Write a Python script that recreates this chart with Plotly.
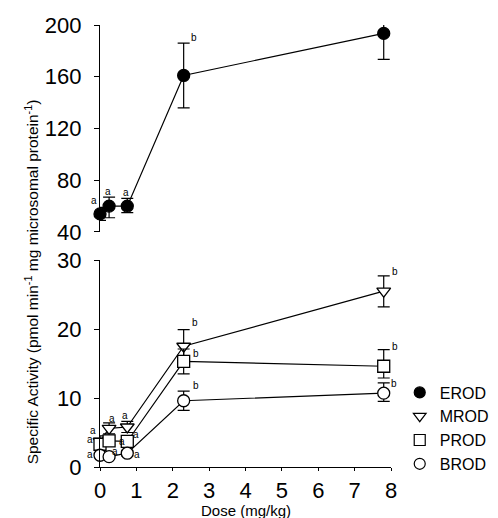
import plotly.graph_objects as go

dose = [0, 0.25, 0.75, 2.3, 7.8]

erod = [54, 60, 60, 161, 193.5]
erod_ep = [5, 7, 6, 25, 7]
erod_em = [5, 9, 5, 25, 20]
erod_lbl = ["a", "a", "a", "b", "b"]

mrod = [3.7, 5.6, 5.8, 17.5, 25.5]
mrod_ep = [0.8, 0.8, 0.8, 2.4, 2.2]
mrod_em = [0.8, 0.8, 0.8, 2.4, 2.3]
prod_ = [3.3, 3.8, 3.7, 15.3, 14.6]
prod_ep = [0.6, 0.5, 0.8, 1.8, 2.4]
prod_em = [0.6, 0.5, 0.8, 1.8, 1.7]
brod = [1.7, 1.5, 2.0, 9.6, 10.7]
brod_ep = [0.4, 0.3, 0.4, 1.4, 1.5]
brod_em = [0.4, 0.3, 0.4, 1.4, 1.2]
bottom_lbl = ["a", "a", "a", "b", "b"]

x_ticks = [0, 1, 2, 3, 4, 5, 6, 7, 8]
y_top_ticks = [40, 80, 120, 160, 200]
y_bot_ticks = [0, 10, 20, 30]

FONT = "Liberation Sans, Arial, Helvetica, sans-serif"
BLACK = "black"

fig = go.Figure()


def add_series(y, ep, em, symbol, fill, xa, ya):
    fig.add_trace(go.Scatter(
        x=dose, y=y, mode="lines+markers", xaxis=xa, yaxis=ya,
        line=dict(color=BLACK, width=1.2),
        marker=dict(symbol=symbol, size=12, color=fill,
                    line=dict(color=BLACK, width=1.3)),
        error_y=dict(type="data", symmetric=False, array=ep, arrayminus=em,
                     color=BLACK, thickness=1.2, width=6),
        showlegend=False, cliponaxis=False))


add_series(erod, erod_ep, erod_em, "circle", BLACK, "x2", "y2")
add_series(mrod, mrod_ep, mrod_em, "triangle-down", "white", "x", "y")
add_series(prod_, prod_ep, prod_em, "square", "white", "x", "y")
add_series(brod, brod_ep, brod_em, "circle", "white", "x", "y")

# legend-only marker entries
for name, sym, fill in [("EROD", "circle", BLACK), ("MROD", "triangle-down", "white"),
                        ("PROD", "square", "white"), ("BROD", "circle", "white")]:
    fig.add_trace(go.Scatter(x=[None], y=[None], mode="markers", name=name,
                             marker=dict(symbol=sym, size=11, color=fill,
                                         line=dict(color=BLACK, width=1.2))))

# significance labels (offsets in px from marker / error-bar top)
ann = []
erod_off = [(-6, 13, False), (-1, 6, True), (-1, 6, True), (10, 6, True), (11, 6, True)]
mrod_off = [(-7, 11, False), (3, 10, False), (-2, 11, False), (11, 7, True), (11, 4, True)]
prod_off = [(-10, 5, False), (13, -1, False), (9, 7, False), (12, 8, False), (11, 3, True)]
brod_off = [(-10, 1, False), (6, 5, False), (10, -1, False), (12, 6, True), (10, 10, False)]

def add_labels(y, ep, offs, lbls, xr, yr):
    for xi, yi, e, (dx, dy, top), t in zip(dose, y, ep, offs, lbls):
        ann.append(dict(x=xi, y=yi + (e if top else 0), xref=xr, yref=yr, text=t,
                        showarrow=False, xshift=dx, yshift=dy,
                        font=dict(family=FONT, size=10, color=BLACK)))

add_labels(erod, erod_ep, erod_off, erod_lbl, "x2", "y2")
add_labels(mrod, mrod_ep, mrod_off, bottom_lbl, "x", "y")
add_labels(prod_, prod_ep, prod_off, bottom_lbl, "x", "y")
add_labels(brod, brod_ep, brod_off, bottom_lbl, "x", "y")

ann.append(dict(x=-0.275, y=0.42, xref="paper", yref="paper", textangle=-90,
                text="Specific Activity (pmol min<sup>-1</sup> mg microsomal protein<sup>-1</sup>)",
                showarrow=False, font=dict(family=FONT, size=15.5, color=BLACK)))
ann.append(dict(x=0.5, y=-0.0973, xref="paper", yref="paper", yanchor="middle",
                text="Dose (mg/kg)", showarrow=False,
                font=dict(family=FONT, size=15, color=BLACK)))

axis_common = dict(showgrid=False, zeroline=False, showline=True, linecolor=BLACK,
                   linewidth=1.2, ticks="outside", tickcolor=BLACK,
                   tickwidth=1.2, automargin=False,
                   tickfont=dict(family=FONT, size=22, color=BLACK))

fig.update_layout(
    width=498, height=518,
    margin=dict(l=100, r=107, t=25, b=51, autoexpand=False),
    paper_bgcolor="white", plot_bgcolor="white",
    font=dict(family=FONT, color=BLACK),
    xaxis=dict(domain=[0, 1], range=[0, 8], tickvals=x_ticks, anchor="y",
               ticklen=3, **axis_common),
    yaxis=dict(domain=[0, 0.4683], range=[0, 30], tickvals=y_bot_ticks, anchor="x",
               ticklen=5, ticklabelstandoff=8, **axis_common),
    xaxis2=dict(domain=[0, 1], range=[0, 8], anchor="y2", visible=False),
    yaxis2=dict(domain=[0.5317, 1], range=[40, 200], tickvals=y_top_ticks, anchor="x2",
                ticklen=5, ticklabelstandoff=8, **axis_common),
    legend=dict(x=1.03, y=0.207, xanchor="left", yanchor="top",
                font=dict(family=FONT, size=16, color=BLACK),
                bgcolor="rgba(0,0,0,0)", tracegroupgap=0),
    annotations=ann,
)

fig.write_html("out.html", config={"displayModeBar": False},
               post_script="document.body.style.margin='0';")
